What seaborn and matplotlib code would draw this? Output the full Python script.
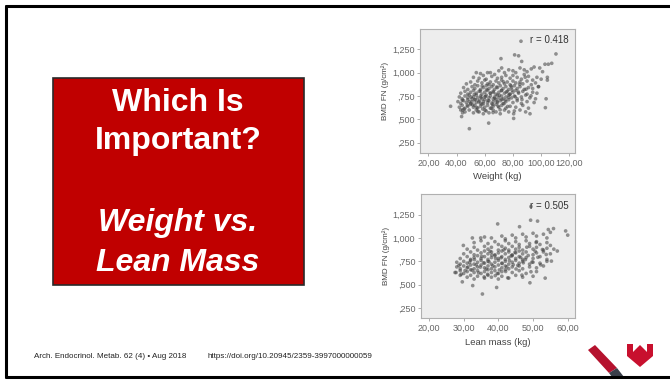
import matplotlib
matplotlib.use("Agg")
import matplotlib.pyplot as plt
import seaborn as sns
import pandas as pd
from matplotlib.patches import Rectangle, Polygon
from matplotlib.lines import Line2D

# ---------------- data ----------------
weight = [54,57,62,64,70,72,74,77,80,82,85,88,90,93,95,99,101,
          52,56,59,61,65,67,69,72,75,78,80,83,86,88,91,94,97,100,
          47,50,53,55,58,60,62,64,66,68,70,72,74,76,78,80,82,85,87,90,93,96,98,
          45,48,51,53,55,57,59,61,63,65,67,69,71,73,75,77,79,81,83,85,88,91,94,
          43,46,48,50,52,54,56,58,60,62,64,66,68,70,72,74,76,78,80,82,84,87,90,94,97,
          42,44,46,48,49,51,52,54,55,57,58,60,61,63,64,66,67,69,70,72,73,75,77,79,81,83,86,89,92,96,
          41,43,45,47,48,50,51,53,54,56,57,59,60,62,63,65,66,68,69,71,73,75,77,80,83,86,90,95,
          42,44,46,48,50,52,53,55,57,58,60,62,64,66,68,70,72,75,78,82,87,91,
          43,46,49,52,54,56,59,61,63,66,68,71,74,77,81,85,89,
          85.7,110.5,81.2,84.0,71.5,86.2,107.5,105.1,102.7,35.8,49.1,62.8,103,103.5,104.4,104.4,98.2,92.1,80.5,80.5,43.6,44.3,44.3,
          51.5,53.2,55.8,57.4,59.1,60.7,62.3,63.9,65.6,67.2,68.8,70.4,72.1,73.7,75.3,76.9,52.6,54.4,56.9,58.6,
          61.3,64.7,66.1,69.5,71.8,74.6,77.8,79.4,81.6,83.9,49.2,47.6,45.3,44.1,50.3,58.2,63.1,68.4,73.3,78.6,
          84.7,89.3,92.8,55.1,60.2,65.9,70.9,76.2,86.4,88.7]
bmd_w = [1.00,0.99,1.00,1.00,1.02,1.05,1.00,1.03,1.02,1.00,1.05,1.03,1.01,1.04,1.06,1.05,1.01,
         0.95,0.94,0.97,0.93,0.96,0.98,0.94,0.95,0.97,0.94,0.97,0.95,0.93,0.98,0.96,0.92,0.95,0.93,
         0.88,0.90,0.87,0.91,0.89,0.92,0.88,0.90,0.87,0.91,0.89,0.92,0.88,0.90,0.87,0.91,0.89,0.90,0.88,0.91,0.87,0.89,0.85,
         0.84,0.82,0.85,0.83,0.86,0.82,0.84,0.86,0.83,0.85,0.82,0.84,0.86,0.83,0.85,0.82,0.84,0.86,0.83,0.85,0.82,0.84,0.83,
         0.78,0.80,0.77,0.79,0.81,0.78,0.80,0.77,0.79,0.81,0.78,0.80,0.77,0.79,0.81,0.78,0.80,0.77,0.79,0.81,0.78,0.80,0.77,0.79,0.78,
         0.74,0.72,0.75,0.73,0.76,0.72,0.74,0.76,0.73,0.75,0.72,0.74,0.76,0.73,0.75,0.72,0.74,0.76,0.73,0.75,0.72,0.74,0.76,0.73,0.75,0.72,0.74,0.76,0.73,0.72,
         0.69,0.67,0.70,0.68,0.71,0.67,0.69,0.71,0.68,0.70,0.67,0.69,0.71,0.68,0.70,0.67,0.69,0.71,0.68,0.70,0.67,0.69,0.71,0.68,0.70,0.67,0.69,0.68,
         0.63,0.65,0.62,0.64,0.66,0.63,0.65,0.62,0.64,0.66,0.63,0.65,0.62,0.64,0.66,0.63,0.65,0.62,0.64,0.63,0.65,0.62,
         0.60,0.58,0.60,0.57,0.60,0.58,0.56,0.59,0.57,0.60,0.58,0.56,0.60,0.58,0.59,0.60,0.58,
         1.336,1.20,1.19,1.18,1.15,1.12,1.10,1.09,1.09,0.64,0.40,0.46,0.625,0.72,0.92,0.95,0.85,0.56,0.56,0.51,0.53,0.57,0.60,
         0.655,0.712,0.688,0.734,0.668,0.745,0.702,0.781,0.658,0.726,0.691,0.757,0.713,0.668,0.792,0.734,0.768,0.627,0.803,0.611,
         0.818,0.619,0.788,0.641,0.808,0.706,0.768,0.812,0.742,0.793,0.689,0.651,0.612,0.705,0.739,0.857,0.872,0.846,0.901,0.858,
         0.876,0.823,0.752,0.583,0.597,0.573,0.602,0.638,0.712,0.951]

lean = [36,38,41,42,44,45,47,48,50,51,53,54,55,
        33,35,37,39,40,42,43,45,46,48,49,51,52,54,55,
        31,33,34,36,37,38,40,41,42,43,44,45,46,47,49,50,51,53,54,56,
        30,32,33,35,36,37,38,39,40,41,42,43,44,45,46,47,48,50,51,53,55,
        29,31,32,33,34,35,36,37,38,39,40,41,42,43,44,45,46,47,48,50,52,54,
        28,29,30,31,32,33,34,35,36,37,38,39,40,41,42,43,44,45,46,47,49,50,52,54,
        28,29,30,31,32,33,34,35,36,37,38,39,40,41,42,43,44,46,47,49,51,53,
        27.5,29,30,31,32,33,34,35,36,37,38,39,40,41,42,44,46,48,51,
        29,31,32,33,34,36,37,38,40,41,43,45,47,50,
        49.4,49.3,51.3,39.8,46.1,59.4,60.0,55.9,54.4,29.9,32.5,34.9,27.8,35.4,39.5,53.5,49.1,57.0,29.6,32.6,
        32.4,33.6,34.8,35.7,36.5,37.3,38.4,39.2,40.3,41.1,42.4,43.2,44.3,45.1,46.4,47.2,33.1,34.3,35.2,36.9,
        38.1,39.7,40.8,42.1,43.7,45.6,47.8,48.6,49.7,51.4,31.2,30.4,29.3,28.6,31.7,37.6,41.6,44.8,48.2,50.6,
        52.7,53.8,55.3,35.9,39.1,42.7,46.8,49.4,52.2,50.9]
bmd_l = [1.01,1.00,1.02,0.99,1.03,1.00,1.04,1.01,1.05,1.02,1.04,1.00,1.06,
         0.95,0.97,0.94,0.96,0.93,0.97,0.94,0.96,0.93,0.97,0.94,0.96,0.93,0.95,0.92,
         0.88,0.90,0.87,0.91,0.88,0.90,0.87,0.91,0.89,0.87,0.91,0.88,0.90,0.87,0.91,0.88,0.90,0.87,0.89,0.88,
         0.83,0.85,0.82,0.84,0.86,0.83,0.85,0.82,0.84,0.86,0.83,0.85,0.82,0.84,0.86,0.83,0.85,0.82,0.84,0.85,0.83,
         0.78,0.80,0.77,0.79,0.81,0.78,0.80,0.77,0.79,0.81,0.78,0.80,0.77,0.79,0.81,0.78,0.80,0.77,0.79,0.78,0.80,0.77,
         0.74,0.72,0.75,0.73,0.76,0.72,0.74,0.76,0.73,0.75,0.72,0.74,0.76,0.73,0.75,0.72,0.74,0.76,0.73,0.75,0.72,0.74,0.73,0.75,
         0.69,0.67,0.70,0.68,0.71,0.67,0.69,0.71,0.68,0.70,0.67,0.69,0.71,0.68,0.70,0.67,0.69,0.70,0.67,0.69,0.68,0.70,
         0.63,0.65,0.62,0.64,0.66,0.63,0.65,0.62,0.64,0.66,0.63,0.65,0.62,0.64,0.66,0.63,0.65,0.62,0.64,
         0.60,0.58,0.60,0.56,0.59,0.57,0.60,0.58,0.56,0.59,0.57,0.60,0.58,0.59,
         1.336,1.19,1.18,1.15,1.12,1.075,1.03,1.10,1.09,0.92,1.00,1.00,0.63,0.40,0.47,0.57,0.52,0.86,0.53,0.49,
         0.655,0.712,0.688,0.734,0.668,0.745,0.702,0.781,0.658,0.726,0.691,0.757,0.713,0.668,0.792,0.734,0.768,0.627,0.803,0.611,
         0.818,0.619,0.788,0.641,0.808,0.706,0.768,0.812,0.742,0.793,0.689,0.651,0.612,0.705,0.739,0.857,0.872,0.846,0.901,0.858,
         0.876,0.823,0.752,0.583,0.597,0.573,0.602,0.638,0.712,0.951]

weight_ticks = [20, 40, 60, 80, 100, 120]
weight_labels = ["20,00", "40,00", "60,00", "80,00", "100,00", "120,00"]
lean_ticks = [20, 30, 40, 50, 60]
lean_labels = ["20,00", "30,00", "40,00", "50,00", "60,00"]
bmd_ticks = [0.25, 0.5, 0.75, 1.0, 1.25]
bmd_labels = [",250", ",500", ",750", "1,000", "1,250"]
r_weight = "r = 0.418"
r_lean = "r = 0.505"

title_lines = ["Which Is", "Important?"]
subtitle_lines = ["Weight vs.", "Lean Mass"]
citation = "Arch. Endocrinol. Metab. 62 (4) \u2022 Aug 2018"
doi = "https://doi.org/10.20945/2359-3997000000059"

# ---------------- figure ----------------
sns.set_style("white")
plt.rcParams["font.family"] = ["Liberation Sans", "DejaVu Sans"]

W, H = 670, 380
fig = plt.figure(figsize=(6.7, 3.8), dpi=100)
fig.patch.set_facecolor("white")

def fx(px):
    return px / W

def fy(py):
    return 1 - py / H

# slide border (left, top, bottom)
for (x0, y0, x1, y1) in [(5.5, 6, 5.5, 377), (5.5, 6, 670, 6), (5.5, 377, 670, 377)]:
    fig.add_artist(Line2D([fx(x0), fx(x1)], [fy(y0), fy(y1)], color="black", lw=2.2,
                          transform=fig.transFigure))

# red box
fig.add_artist(Rectangle((fx(52.5), fy(285)), fx(303.5) - fx(52.5), fy(77.5) - fy(285),
                         transform=fig.transFigure, facecolor="#C00000",
                         edgecolor="#2a2a2a", lw=1.2))
cx = fx(178)
for txt, yy in zip(title_lines, [103, 141.5]):
    fig.text(cx, fy(yy), txt, color="white", fontsize=23, fontweight="bold",
             ha="center", va="center")
for txt, yy in zip(subtitle_lines, [223, 263]):
    fig.text(cx, fy(yy), txt, color="white", fontsize=23, fontweight="bold",
             fontstyle="italic", ha="center", va="center")

# citation
fig.text(fx(34), fy(357), citation, fontsize=5.8, color="#222222", ha="left", va="center")
fig.text(fx(208), fy(357), doi, fontsize=5.8, color="#222222", ha="left", va="center")

# logo (stripe + shield)
fig.add_artist(Polygon([(fx(588), fy(350)), (fx(595), fy(345)), (fx(617), fy(368)), (fx(609), fy(373))],
                       closed=True, transform=fig.transFigure, facecolor="#B5122E", edgecolor="none"))
fig.add_artist(Polygon([(fx(609), fy(373)), (fx(617), fy(368)), (fx(624), fy(377)), (fx(612), fy(377))],
                       closed=True, transform=fig.transFigure, facecolor="#3a3f4a", edgecolor="none"))
fig.add_artist(Polygon([(fx(627), fy(344)), (fx(633), fy(344)), (fx(633), fy(352)), (fx(640), fy(345)),
                        (fx(647), fy(352)), (fx(647), fy(344)), (fx(653), fy(344)), (fx(653), fy(356)),
                        (fx(640), fy(367)), (fx(627), fy(356))],
                       closed=True, transform=fig.transFigure, facecolor="#C8102E", edgecolor="none"))

def make_ax(left, top, right, bottom, xs, ys, xlim, xticks, xlabels, xlabel, rtxt):
    ax = fig.add_axes([fx(left), fy(bottom), fx(right) - fx(left), fy(top) - fy(bottom)])
    df = pd.DataFrame({"x": xs, "y": ys})
    sns.scatterplot(data=df, x="x", y="y", ax=ax, s=7, color="#404040", alpha=0.55,
                    edgecolor="none", linewidth=0)
    ax.set_facecolor("#ededed")
    ax.set_xlim(*xlim)
    ax.set_ylim(0.14, 1.467)
    ax.set_xticks(xticks)
    ax.set_xticklabels(xlabels)
    ax.set_yticks(bmd_ticks)
    ax.set_yticklabels(bmd_labels)
    ax.tick_params(axis="both", labelsize=6.5, colors="#a0a0a0", labelcolor="#666666",
                   length=2.5, width=0.6, pad=1.5, left=True, bottom=True)
    for sp in ax.spines.values():
        sp.set_color("#b0b0b0")
        sp.set_linewidth(0.8)
    ax.set_xlabel(xlabel, fontsize=6.8, color="#444444", labelpad=3.5)
    ax.set_ylabel("BMD FN (g/cm\u00b2)", fontsize=5.8, color="#444444", labelpad=2)
    ax.text(0.96, 0.95, rtxt, transform=ax.transAxes, fontsize=7, color="#333333",
            ha="right", va="top")
    return ax

make_ax(420, 29, 575, 153, weight, bmd_w, (14.1, 124), weight_ticks, weight_labels,
        "Weight (kg)", r_weight)
make_ax(420.7, 194.3, 575, 318.3, lean, bmd_l, (17.6, 62.1), lean_ticks, lean_labels,
        "Lean mass (kg)", r_lean)

fig.savefig("out.png", dpi=100)
